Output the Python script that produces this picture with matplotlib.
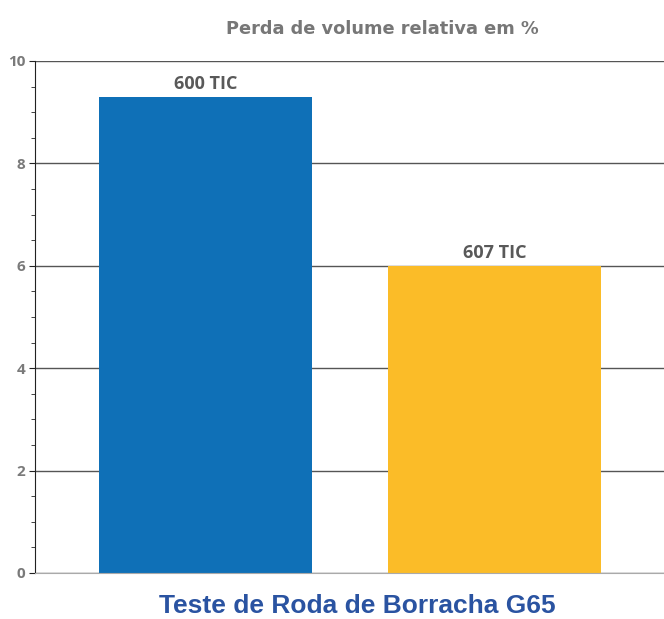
import matplotlib
matplotlib.use('Agg')
import matplotlib.pyplot as plt
from matplotlib.ticker import MultipleLocator

categories = ['600 TIC', '607 TIC']
values = [9.3, 6.0]
colors = ['#0f70b7', '#fbbc28']
yticks = [0, 2, 4, 6, 8, 10]

fig = plt.figure(figsize=(6.64, 6.19), dpi=100)
ax = fig.add_axes([35 / 664, 1 - 573 / 619, 629 / 664, 512 / 619])

x = range(len(categories))
ax.bar(x, values, width=0.736, color=colors, zorder=2)
for xi, v, lab in zip(x, values, categories):
    ax.text(xi, v + 0.07, lab, ha='center', va='bottom', fontsize=13,
            fontweight='bold', color='#595959', family='Open Sans')

ax.set_xlim(-0.59, 1.585)
ax.set_ylim(0, 10)
ax.set_yticks(yticks)
ax.yaxis.set_minor_locator(MultipleLocator(0.5))
ax.grid(axis='y', color='#555555', linewidth=1.0, zorder=1)
ax.set_xticks([])
for s in ['top', 'right']:
    ax.spines[s].set_visible(False)
ax.spines['bottom'].set_color('#aaaaaa')
ax.spines['left'].set_color('#222222')
ax.tick_params(axis='y', which='major', length=4, color='#222222',
               labelsize=11, labelcolor='#7a7a7a', pad=3)
ax.tick_params(axis='y', which='minor', length=3, color='#222222')
for t in ax.get_yticklabels():
    t.set_fontweight('bold')
    t.set_family('Open Sans')

fig.text(382 / 664, 1 - 29 / 619, 'Perda de volume relativa em %', ha='center', va='center',
         fontsize=12.8, fontweight='bold', color='#777777', family='DejaVu Sans')
fig.text(357 / 664, 1 - 606 / 619, 'Teste de Roda de Borracha G65', ha='center', va='center',
         fontsize=19, fontweight='bold', color='#2a53a1', family='Liberation Sans')

fig.savefig('out.png', dpi=100)
